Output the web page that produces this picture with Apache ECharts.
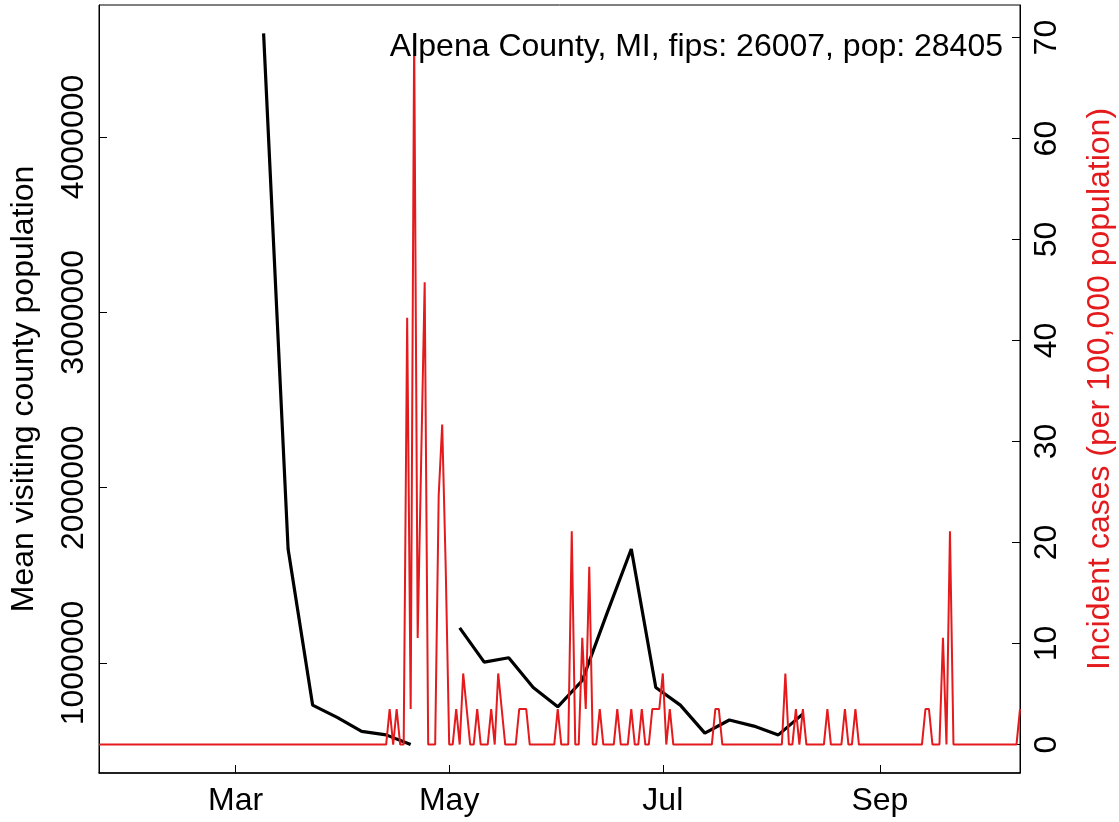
<!DOCTYPE html>
<html>
<head>
<meta charset="utf-8">
<script src="https://cdn.jsdelivr.net/npm/echarts@6/dist/echarts.min.js"></script>
<style>
html,body{margin:0;padding:0;background:#fff;}
#chart{width:1119px;height:822px;}
</style>
</head>
<body>
<div id="chart"></div>
<script>
// ---- data ----
const chartTitle = 'Alpena County, MI, fips: 26007, pop: 28405';
const leftAxisName = 'Mean visiting county population';
const rightAxisName = 'Incident cases (per 100,000 population)';

// daily incidence (per 100,000), one value per day starting at firstDay
const firstDay = '2020-01-22';
const incidence = [
  0,0,0,0,0,0,0,0,0,0, 0,0,0,0,0,0,0,0,0,0,
  0,0,0,0,0,0,0,0,0,0, 0,0,0,0,0,0,0,0,0,0,
  0,0,0,0,0,0,0,0,0,0, 0,0,0,0,0,0,0,0,0,0,
  0,0,0,0,0,0,0,0,0,0, 0,0,0,0,0,0,0,0,0,0,
  0,0,0,3.52,0,3.52,0,0,42.25,3.52,              // d80-89
  70.41,10.56,28.16,45.77,0,0,0,24.64,31.68,17.6,  // d90-99
  0,0,3.52,0,7.04,3.52,0,0,3.52,0,                // d100-109
  0,0,3.52,0,7.04,3.52,0,0,0,0,                   // d110-119
  3.52,3.52,3.52,0,0,0,0,0,0,0,                   // d120-129
  0,3.52,0,0,0,21.12,0,0,10.56,3.52,              // d130-139
  17.6,0,0,3.52,0,0,0,0,3.52,0,                   // d140-149
  0,0,3.52,0,0,3.52,0,0,3.52,3.52,                // d150-159
  3.52,7.04,0,3.52,0,0,0,0,0,0,                   // d160-169
  0,0,0,0,0,0,3.52,3.52,0,0,                      // d170-179
  0,0,0,0,0,0,0,0,0,0,                            // d180-189
  0,0,0,0,0,0,7.04,0,0,3.52,                      // d190-199
  0,3.52,0,0,0,0,0,0,3.52,0,                      // d200-209
  0,0,0,3.52,0,0,3.52,0,0,0,                      // d210-219
  0,0,0,0,0,0,0,0,0,0,                            // d220-229
  0,0,0,0,0,0,3.52,3.52,0,0,                      // d230-239
  0,10.56,0,21.12,0,0,0,0,0,0,                    // d240-249
  0,0,0,0,0,0,0,0,0,0,                            // d250-259
  0,0,0,3.52                                      // d260-263
];

// weekly mean visiting county population
const weekDates = ['2020-03-09','2020-03-16','2020-03-23','2020-03-30','2020-04-06','2020-04-13','2020-04-20','2020-04-27',
  '2020-05-04','2020-05-11','2020-05-18','2020-05-25','2020-06-01','2020-06-08','2020-06-15','2020-06-22','2020-06-29',
  '2020-07-06','2020-07-13','2020-07-20','2020-07-27','2020-08-03','2020-08-10'];
const visitPop = [4591000,1650000,760000,690000,610000,590000,534800,null,
  1200000,1005000,1030000,860000,750000,900000,1280000,1650000,860000,
  760000,600000,675000,640000,590000,710000];

// axis ticks
const xTickDates = ['2020-03-01','2020-05-01','2020-07-01','2020-09-01'];
const xTickLabels = ['Mar','May','Jul','Sep'];
const leftTicks = [1000000,2000000,3000000,4000000];
const leftTickLabels = ['1000000','2000000','3000000','4000000'];
const rightTicks = [0,10,20,30,40,50,60,70];
const xRange = ['2020-01-22','2020-10-11'];

// ---- build ----
function ts(s){ const p = s.split('-').map(Number); return Date.UTC(p[0], p[1]-1, p[2]); }
const DAY = 86400000;
const t0 = ts(firstDay);
const redData = incidence.map((v,i)=>[t0 + i*DAY, v]);
const blackData = weekDates.map((d,i)=>[ts(d), visitPop[i]]);
const xTickVals = xTickDates.map(ts);

const FONT = 'Liberation Sans, Arial, sans-serif';
const RED = '#E41A1C';

const chart = echarts.init(document.getElementById('chart'), null, {renderer:'canvas'});
chart.setOption({
  animation:false,
  backgroundColor:'#ffffff',
  textStyle:{fontFamily:FONT},
  title:{
    text:chartTitle, right:116, top:31, padding:0,
    textStyle:{fontSize:32, fontWeight:'normal', color:'#000', fontFamily:FONT}
  },
  grid:{left:99, right:99, top:5, bottom:49, containLabel:false, outerBoundsMode:'none',
        show:true, borderColor:'#000', borderWidth:1, backgroundColor:'transparent'},
  xAxis:{
    type:'value', min:ts(xRange[0]), max:ts(xRange[1]),
    axisLine:{show:true, onZero:false, lineStyle:{color:'#000', width:1.5}},
    axisTick:{show:true, inside:true, length:8, customValues:xTickVals, lineStyle:{color:'#000', width:1}},
    axisLabel:{show:true, customValues:xTickVals, margin:12, fontSize:32, color:'#000', fontFamily:FONT,
      formatter:function(v){ const i = xTickVals.indexOf(v); return i>=0 ? xTickLabels[i] : ''; }},
    splitLine:{show:false}
  },
  yAxis:[{
    type:'value', position:'left', min:372600, max:4752900,
    name:leftAxisName, nameLocation:'middle', nameRotate:90, nameGap:59,
    nameTextStyle:{fontSize:32, color:'#000', fontFamily:FONT},
    axisLine:{show:true, onZero:false, lineStyle:{color:'#000', width:1}},
    axisTick:{show:true, inside:true, length:8, customValues:leftTicks, lineStyle:{color:'#000'}},
    axisLabel:{show:true, customValues:leftTicks, rotate:90, margin:9, fontSize:32, color:'#000', fontFamily:FONT,
      formatter:function(v){ const i = leftTicks.indexOf(v); return i>=0 ? leftTickLabels[i] : ''; }},
    splitLine:{show:false}
  },{
    type:'value', position:'right', min:-2.816, max:73.226,
    name:rightAxisName, nameLocation:'middle', nameRotate:90, nameGap:64,
    nameTextStyle:{fontSize:32, color:RED, fontFamily:FONT},
    axisLine:{show:true, onZero:false, lineStyle:{color:'#000', width:1}},
    axisTick:{show:true, inside:true, length:8, customValues:rightTicks, lineStyle:{color:'#000'}},
    axisLabel:{show:true, customValues:rightTicks, rotate:90, margin:11, fontSize:32, color:'#000', fontFamily:FONT},
    splitLine:{show:false}
  }],
  series:[{
    type:'line', yAxisIndex:0, data:blackData, symbol:'none', connectNulls:false,
    lineStyle:{color:'#000', width:3.2}, z:2
  },{
    type:'line', yAxisIndex:1, data:redData, symbol:'none',
    lineStyle:{color:RED, width:2}, z:3
  }]
});
</script>
</body>
</html>
